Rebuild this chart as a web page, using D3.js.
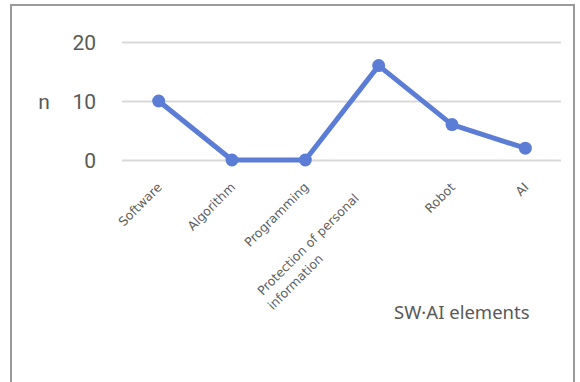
<!DOCTYPE html>
<html><head><meta charset="utf-8">
<script src="https://cdn.jsdelivr.net/npm/d3@7"></script>
<style>body{margin:0;background:#fff}svg{display:block}.xl{font-family:'DejaVu Sans',sans-serif}</style>
</head><body>
<svg id="c" width="580" height="382"></svg>
<script>
const categories = ["Software","Algorithm","Programming","Protection of personal information","Robot","AI"];
const labelLines = [["Software"],["Algorithm"],["Programming"],["Protection of personal","information"],["Robot"],["AI"]];
const values = [10,0,0,16,6,2];
const yTicks = [0,10,20];
const yTitle = "n";
const xTitle = "SW·AI elements";

const svg = d3.select("#c");
const x = d3.scalePoint().domain(categories).range([122,562]).padding(0.5);
const y = d3.scaleLinear().domain([0,20]).range([160,42]);

// frame
svg.append("path").attr("d","M11,382V5H574V382").attr("fill","none").attr("stroke","#9a9a9a").attr("stroke-width",2);

// y axis with gridlines
const yAxis = d3.axisLeft(y).tickValues(yTicks).tickSize(-439).tickPadding(26);
const gy = svg.append("g").attr("transform","translate(122,0)").call(yAxis);
gy.select(".domain").remove();
gy.selectAll(".tick line").attr("stroke","#d9d9d9").attr("stroke-width",2);
gy.selectAll(".tick text").attr("fill","#595959").attr("font-family","Roboto").attr("font-size",21).attr("dy","0.36em");

svg.append("text").attr("x",44).attr("y",y(10)).attr("dy","0.36em").attr("text-anchor","middle")
  .attr("font-family","Roboto").attr("font-size",21).attr("fill","#595959").text(yTitle);

// x labels
const fs = 12.5;
categories.forEach((c,i)=>{
  const g = svg.append("g").attr("class","xl").attr("transform",`translate(${x(c)+4},188) rotate(-45)`)
    .attr("font-size",fs).attr("fill","#5f5f5f");
  const lines = labelLines[i];
  if(lines.length===1){
    g.append("text").attr("text-anchor","end").text(lines[0]);
  } else {
    const t1 = g.append("text").attr("text-anchor","end").attr("x",-24).attr("y",-8.5).text(lines[0]);
    const w = t1.node().getComputedTextLength();
    g.append("text").attr("text-anchor","start").attr("x",-24-w-3).attr("y",9).text(lines[1]);
  }
});

svg.append("text").attr("x",394).attr("y",319).attr("font-family","Noto Sans").attr("font-size",18.5)
  .attr("fill","#595959").text(xTitle);

// line
const line = d3.line().x((d,i)=>x(categories[i])).y(d=>y(d));
svg.append("path").datum(values).attr("d",line).attr("fill","none").attr("stroke","#5b7dd6").attr("stroke-width",5).attr("stroke-linejoin","round");
svg.selectAll("circle.pt").data(values).enter().append("circle").attr("class","pt")
  .attr("cx",(d,i)=>x(categories[i])).attr("cy",d=>y(d)).attr("r",6.5).attr("fill","#5b7dd6");
</script>
</body></html>
